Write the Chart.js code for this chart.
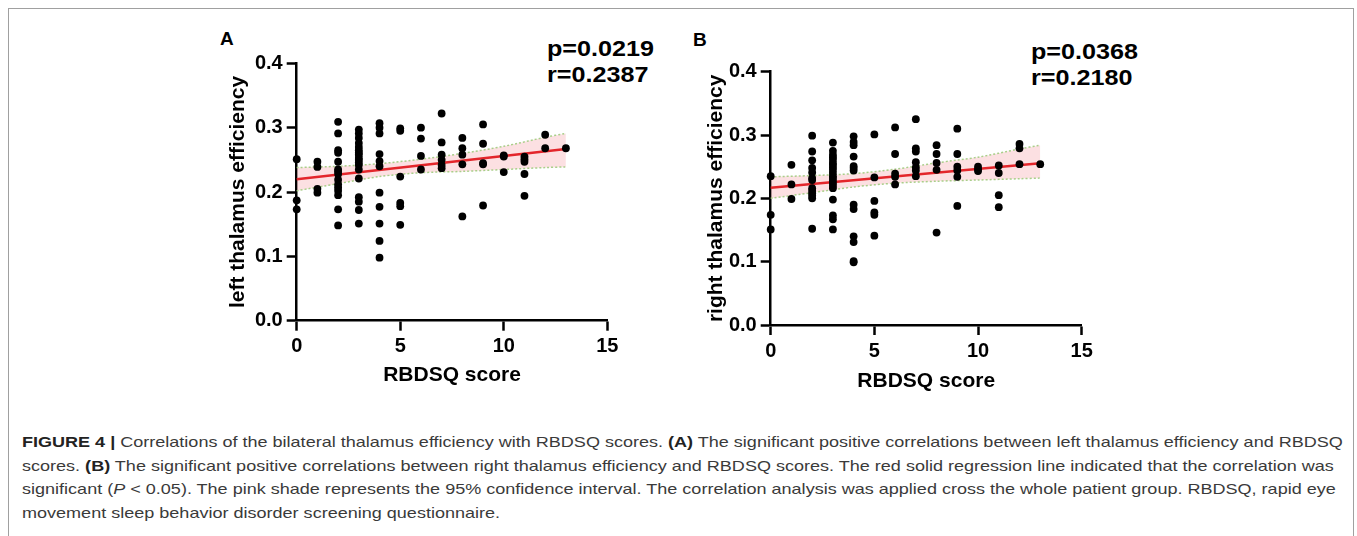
<!DOCTYPE html>
<html>
<head>
<meta charset="utf-8">
<script src="https://cdn.jsdelivr.net/npm/chart.js@4.4.1/dist/chart.umd.min.js"></script>
<style>
  body { margin: 0; width: 1357px; height: 536px; background: #fff; position: relative; overflow: hidden;
         font-family: "Liberation Sans", Arial, sans-serif; }
  .frame { position: absolute; left: 8px; top: 8px; width: 1344px; height: 600px; border: 1.5px solid #a0a0a0; }
  .panel { position: absolute; top: 20px; width: 460px; height: 380px; }
  .letter { position: absolute; font-weight: bold; font-size: 19px; line-height: 19px; color: #000; }
  .stat { position: absolute; font-weight: bold; font-size: 21.5px; line-height: 26px; color: #000; white-space: nowrap;
          transform: scaleX(1.17); transform-origin: 0 0; }
  .caption { position: absolute; left: 22px; top: 430px; font-size: 15px; line-height: 23.7px; color: #3a3a3a;
             white-space: nowrap; transform-origin: 0 0; }
  .caption b { color: #222; }
</style>
</head>
<body>
<div class="frame"></div>

<div class="letter" style="left:220px; top:29px;">A</div>
<div class="letter" style="left:693px; top:29.5px;">B</div>

<div class="stat" style="left:547px; top:35.6px;">p=0.0219<br>r=0.2387</div>
<div class="stat" style="left:1031px; top:38.6px;">p=0.0368<br>r=0.2180</div>

<div class="panel" style="left:200px;"><canvas id="chartA" width="460" height="380"></canvas></div>
<div class="panel" style="left:680px;"><canvas id="chartB" width="460" height="380"></canvas></div>

<div class="caption" id="caption">
<span id="captionFirst"><b>FIGURE 4 |</b> Correlations of the bilateral thalamus efficiency with RBDSQ scores. <b>(A)</b> The significant positive correlations between left thalamus efficiency and RBDSQ</span><br>
scores. <b>(B)</b> The significant positive correlations between right thalamus efficiency and RBDSQ scores. The red solid regression line indicated that the correlation was<br>
significant (<i>P</i> &lt; 0.05). The pink shade represents the 95% confidence interval. The correlation analysis was applied cross the whole patient group. RBDSQ, rapid eye<br>
movement sleep behavior disorder screening questionnaire.
</div>

<script>
// ===== データ =====
const xTicks = [0, 5, 10, 15];
const yTicks = [0.0, 0.1, 0.2, 0.3, 0.4];

// 各RBDSQスコア(0〜13)ごとの値
const leftEfficiency = [
  [0.251, 0.187, 0.173],
  [0.247, 0.239, 0.205, 0.199],
  [0.309, 0.291, 0.265, 0.261, 0.247, 0.235, 0.232, 0.228, 0.219, 0.212, 0.207, 0.202, 0.195, 0.173, 0.148],
  [0.297, 0.291, 0.284, 0.276, 0.270, 0.265, 0.261, 0.258, 0.253, 0.250, 0.246, 0.242, 0.235, 0.221, 0.192, 0.185, 0.172, 0.151],
  [0.307, 0.300, 0.291, 0.259, 0.248, 0.240, 0.199, 0.177, 0.151, 0.124, 0.098],
  [0.299, 0.295, 0.224, 0.183, 0.178, 0.149],
  [0.300, 0.283, 0.256, 0.235],
  [0.322, 0.277, 0.258, 0.250, 0.242, 0.237],
  [0.284, 0.268, 0.258, 0.243, 0.162],
  [0.305, 0.275, 0.245, 0.243, 0.179],
  [0.257, 0.255, 0.231],
  [0.255, 0.251, 0.247, 0.228, 0.194],
  [0.289, 0.268],
  [0.268]
];

const rightEfficiency = [
  [0.235, 0.174, 0.151],
  [0.253, 0.222, 0.199],
  [0.299, 0.274, 0.260, 0.248, 0.241, 0.232, 0.229, 0.216, 0.212, 0.208, 0.204, 0.200, 0.152],
  [0.288, 0.275, 0.269, 0.265, 0.261, 0.256, 0.253, 0.249, 0.245, 0.240, 0.235, 0.232, 0.228, 0.224, 0.220, 0.216, 0.198, 0.173, 0.167, 0.151],
  [0.298, 0.289, 0.284, 0.266, 0.251, 0.248, 0.244, 0.190, 0.183, 0.140, 0.131, 0.101, 0.099],
  [0.301, 0.233, 0.196, 0.178, 0.174, 0.141],
  [0.312, 0.270, 0.239, 0.234, 0.222],
  [0.325, 0.279, 0.274, 0.257, 0.249, 0.244, 0.235],
  [0.284, 0.270, 0.256, 0.245, 0.146],
  [0.310, 0.270, 0.250, 0.244, 0.234, 0.188],
  [0.250, 0.246, 0.243],
  [0.252, 0.240, 0.205, 0.186],
  [0.286, 0.279, 0.254],
  [0.254]
];

// 回帰直線と95%信頼区間
const regX = [0, 13];
const regLeft = [0.2197, 0.2668];
const regRight = [0.2168, 0.2553];

const bandX = [0, 2, 4, 6, 8, 10, 12, 13];
const bandUpperLeft = [0.238, 0.240, 0.244, 0.251, 0.260, 0.271, 0.285, 0.291];
const bandLowerLeft = [0.202, 0.213, 0.224, 0.230, 0.232, 0.235, 0.238, 0.239];
const bandUpperRight = [0.234, 0.236, 0.239, 0.246, 0.256, 0.265, 0.278, 0.284];
const bandLowerRight = [0.200, 0.209, 0.218, 0.224, 0.227, 0.229, 0.231, 0.232];

// ===== 描画 =====
const FONT = '"Liberation Sans", Arial, sans-serif';
const GREEN = '#a9cf8a';

function toXY(xs, ys) {
  return xs.map((x, i) => ({ x, y: ys[i] }));
}

function columnsToXY(cols) {
  const pts = [];
  cols.forEach((vals, score) => vals.forEach(v => pts.push({ x: score, y: v })));
  return pts;
}

function makeChart(id, cols, reg, upper, lower, yTitle, geo) {
  const ctx = document.getElementById(id).getContext('2d');
  const axisGrid = { display: true, drawOnChartArea: false, drawTicks: true, tickLength: 10, tickWidth: 2.5, tickColor: '#000' };
  const axisBorder = { display: true, color: '#000', width: 2.5 };
  const tickFont = { family: FONT, weight: 'bold', size: 20 };
  const titleFont = { family: FONT, weight: 'bold', size: 21 };

  return new Chart(ctx, {
    type: 'line',
    data: {
      datasets: [
        {
          data: columnsToXY(cols), showLine: false, pointRadius: 3.9, pointHoverRadius: 3.9,
          pointBackgroundColor: '#000', pointBorderWidth: 0, order: 0, clip: false
        },
        {
          data: toXY(regX, reg), borderColor: '#e3262b', borderWidth: 2.5, pointRadius: 0, order: 1, clip: false
        },
        {
          data: toXY(bandX, upper), borderColor: GREEN, borderWidth: 1.5, borderDash: [2, 2], pointRadius: 0,
          tension: 0.3, fill: '+1', backgroundColor: 'rgba(246, 170, 175, 0.36)', order: 3, clip: false
        },
        {
          data: toXY(bandX, lower), borderColor: GREEN, borderWidth: 1.5, borderDash: [2, 2], pointRadius: 0,
          tension: 0.3, fill: false, order: 2, clip: false
        }
      ]
    },
    options: {
      responsive: false,
      animation: false,
      devicePixelRatio: 1,
      layout: { padding: { left: 0, top: geo.padTop, right: geo.padRight, bottom: 0 } },
      plugins: { legend: { display: false }, tooltip: { enabled: false } },
      scales: {
        x: {
          type: 'linear', min: 0, max: 15,
          afterBuildTicks: s => { s.ticks = xTicks.map(v => ({ value: v })); },
          afterFit: s => { s.height = geo.xH; },
          grid: axisGrid, border: axisBorder,
          ticks: { color: '#000', font: tickFont, padding: 4, maxRotation: 0, autoSkip: false },
          title: { display: true, text: 'RBDSQ score', color: '#000', font: titleFont, padding: { top: 0, bottom: geo.xTitlePad } }
        },
        y: {
          type: 'linear', min: 0, max: 0.4,
          afterBuildTicks: s => { s.ticks = yTicks.map(v => ({ value: v })); },
          afterFit: s => { s.width = geo.yW; },
          grid: axisGrid, border: axisBorder,
          ticks: { color: '#000', font: tickFont, padding: 4, callback: v => v.toFixed(1) },
          title: { display: true, text: yTitle, color: '#000', font: titleFont, padding: { top: geo.yTitlePad, bottom: 0 } }
        }
      }
    }
  });
}

makeChart('chartA', leftEfficiency, regLeft, bandUpperLeft, bandLowerLeft, 'left thalamus efficiency',
  { padTop: 43.3, padRight: 52.7, yW: 96.7, xH: 79.3, yTitlePad: 25.2, xTitlePad: 11.9 });
makeChart('chartB', rightEfficiency, regRight, bandUpperRight, bandLowerRight, 'right thalamus efficiency',
  { padTop: 51.7, padRight: 58.3, yW: 90.7, xH: 75, yTitlePad: 23.2, xTitlePad: 5.9 });

// ===== キャプション幅合わせ =====
const firstLine = document.getElementById('captionFirst');
const stretch = 1321 / firstLine.offsetWidth;
document.getElementById('caption').style.transform = `scaleX(${stretch})`;
</script>
</body>
</html>
